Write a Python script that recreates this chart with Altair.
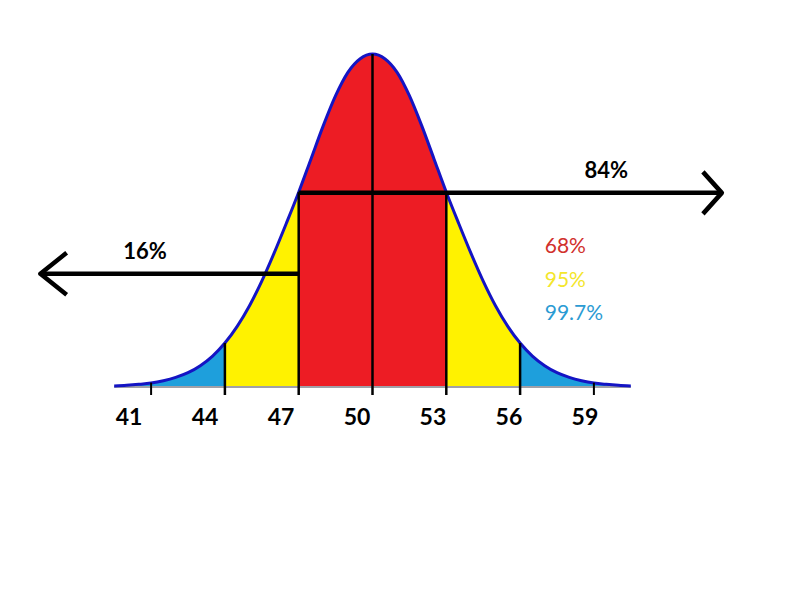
import altair as alt
import pandas as pd

# ---- data ----
x_vals = [39.5, 40.0, 40.5, 41.0, 41.5, 42.0, 42.5, 43.0, 43.5, 44.0, 44.5,
          45.0, 45.5, 46.0, 46.5, 47.0, 47.5, 48.0, 48.5, 49.0, 49.5, 50.0,
          50.5, 51.0, 51.5, 52.0, 52.5, 53.0, 53.5, 54.0, 54.5, 55.0, 55.5,
          56.0, 56.5, 57.0, 57.5, 58.0, 58.5, 59.0, 59.5, 60.0, 60.5]
heights = [0.3, 0.5, 0.8, 1.2, 1.9, 2.9, 4.3, 6.4, 9.3, 13.2, 18.2,
           24.4, 31.8, 40.2, 49.2, 58.5, 68.5, 78.5, 87.5, 94.5, 98.6, 100.0,
           98.6, 94.5, 87.5, 78.5, 68.5, 58.5, 49.2, 40.2, 31.8, 24.4, 18.2,
           13.2, 9.3, 6.4, 4.3, 2.9, 1.9, 1.2, 0.8, 0.5, 0.3]

band_edges = [39.5, 44.0, 47.0, 53.0, 56.0, 60.5]
band_zone = ["99.7%", "95%", "68%", "95%", "99.7%"]

line_x = [44, 47, 50, 53, 56]
line_top = [13.2, 58.5, 100.0, 58.5, 13.2]

tick_x = [41, 59]

arrow_start = [47.0, 47.0]
arrow_end = [64.2, 36.5]
arrow_y = [58.3, 34.0]
arrow_label = ["84%", "16%"]
arrow_label_x = [59.5, 40.75]

legend_text = ["68%", "95%", "99.7%"]
legend_y = [40.2, 30.0, 20.1]
legend_x = 57.0

tick_labels = [41, 44, 47, 50, 53, 56, 59]

# ---- tables ----
curve = pd.DataFrame({"x": x_vals, "h": heights})
rows = []
for i, zone in enumerate(band_zone):
    lo, hi = band_edges[i], band_edges[i + 1]
    for xv, hv in zip(x_vals, heights):
        if lo <= xv <= hi:
            rows.append({"x": xv, "h": hv, "zone": zone, "seg": i})
bands = pd.DataFrame(rows)
vlines = pd.DataFrame({"x": line_x, "top": line_top, "bot": [-2.4] * len(line_x)})
ticks = pd.DataFrame({"x": tick_x, "top": [1.3] * 2, "bot": [-2.4] * 2})
arrows = pd.DataFrame({"x": arrow_start, "x2": arrow_end, "y": arrow_y,
                       "label": arrow_label, "lx": arrow_label_x})
legend = pd.DataFrame({"t": legend_text, "y": legend_y, "x": [legend_x] * 3})
labels = pd.DataFrame({"v": tick_labels})
base_line = pd.DataFrame({"x": [x_vals[0]], "x2": [x_vals[-1]], "y": [0.0]})

# ---- scales ----
xs = alt.Scale(domain=[34.858, 67.378], nice=False, zero=False)
ys = alt.Scale(domain=[-62.46, 116.22], nice=False, zero=False)
xl = alt.Scale(domain=[35.907, 67.49], nice=False, zero=False)

FONT = "Lato"

area = alt.Chart(bands).mark_area(interpolate="monotone").encode(
    x=alt.X("x:Q", scale=xs, axis=None),
    y=alt.Y("h:Q", scale=ys, axis=None, stack=None),
    color=alt.Color("zone:N", legend=None,
                    scale=alt.Scale(domain=["68%", "95%", "99.7%"],
                                    range=["#ED1C24", "#FFF200", "#1E9FDC"])),
    detail="seg:N",
)

baseline = alt.Chart(base_line).mark_rule(color="#A0A0A8", strokeWidth=2).encode(
    x=alt.X("x:Q", scale=xs, axis=None), x2="x2:Q",
    y=alt.Y("y:Q", scale=ys, axis=None),
)

outline = alt.Chart(curve).mark_line(interpolate="monotone", color="#1414C4",
                                     strokeWidth=3).encode(
    x=alt.X("x:Q", scale=xs, axis=None),
    y=alt.Y("h:Q", scale=ys, axis=None),
)

vr = alt.Chart(vlines).mark_rule(color="black", strokeWidth=2.5).encode(
    x=alt.X("x:Q", scale=xs, axis=None),
    y=alt.Y("bot:Q", scale=ys, axis=None), y2="top:Q",
)

tk = alt.Chart(ticks).mark_rule(color="black", strokeWidth=2).encode(
    x=alt.X("x:Q", scale=xs, axis=None),
    y=alt.Y("bot:Q", scale=ys, axis=None), y2="top:Q",
)

arrow_lines = alt.Chart(arrows).mark_rule(color="black", strokeWidth=4.5).encode(
    x=alt.X("x:Q", scale=xs, axis=None), x2="x2:Q",
    y=alt.Y("y:Q", scale=ys, axis=None),
)

head_r = alt.Chart(arrows).transform_filter("datum.x2 > datum.x").mark_point(
    shape="M-0.9,-1L0,0L-0.9,1", filled=False, stroke="black", strokeWidth=4.5,
    size=1764, opacity=1, strokeJoin="round").encode(
    x=alt.X("x2:Q", scale=xs, axis=None),
    y=alt.Y("y:Q", scale=ys, axis=None),
)

head_l = alt.Chart(arrows).transform_filter("datum.x2 < datum.x").mark_point(
    shape="M1.25,-1L0,0L1.25,1", filled=False, stroke="black", strokeWidth=4.5,
    size=1764, opacity=1, strokeJoin="round").encode(
    x=alt.X("x2:Q", scale=xs, axis=None),
    y=alt.Y("y:Q", scale=ys, axis=None),
)

arrow_text = alt.Chart(arrows).mark_text(
    font=FONT, fontSize=22, fontWeight="bold", color="black",
    align="center", baseline="alphabetic", dy=-15).encode(
    x=alt.X("lx:Q", scale=xs, axis=None),
    y=alt.Y("y:Q", scale=ys, axis=None),
    text="label:N",
)

legend_marks = alt.Chart(legend).mark_text(
    font=FONT, fontSize=21, align="left", baseline="alphabetic").encode(
    x=alt.X("x:Q", scale=xs, axis=None),
    y=alt.Y("y:Q", scale=ys, axis=None),
    text="t:N",
    color=alt.Color("t:N", legend=None,
                    scale=alt.Scale(domain=["68%", "95%", "99.7%"],
                                    range=["#D1302C", "#F4E62C", "#2B9BD3"])),
)

tick_text = alt.Chart(labels).mark_text(
    font=FONT, fontSize=23, fontWeight="bold", color="black",
    align="center", baseline="alphabetic").encode(
    x=alt.X("v:Q", scale=xl, axis=None),
    y=alt.value(425),
    text="v:Q",
)

chart = alt.layer(
    area, baseline, outline, vr, tk, arrow_lines, head_r, head_l,
    arrow_text, legend_marks, tick_text
).resolve_scale(x="independent", color="independent").properties(
    width=800, height=595,
    autosize=alt.AutoSizeParams(type="none"),
    padding=0,
    background="white",
).configure_view(stroke=None)

chart.save("out.html", embed_options={"renderer": "svg", "actions": False})
